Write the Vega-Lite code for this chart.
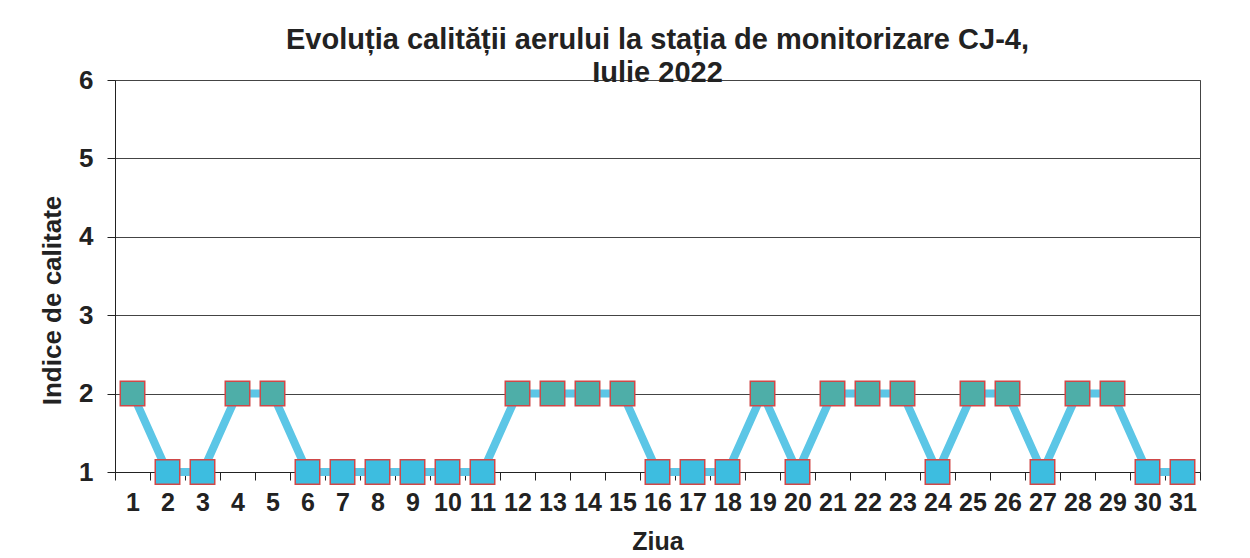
{
  "$schema": "https://vega.github.io/schema/vega-lite/v6.json",
  "autosize": {"type": "none"},
  "padding": {"left": 115, "top": 80, "right": 50, "bottom": 86},
  "width": 1085,
  "height": 392,
  "background": "white",
  "title": {
    "text": ["Evoluția calității aerului la stația de monitorizare CJ-4,", "Iulie 2022"],
    "font": "Liberation Sans",
    "fontSize": 29,
    "fontWeight": "bold",
    "color": "#222",
    "anchor": "middle",
    "lineHeight": 33,
    "offset": -21
  },
  "config": {
    "view": {"stroke": "#444", "strokeWidth": 1},
    "axis": {
      "labelFont": "Liberation Sans",
      "titleFont": "Liberation Sans",
      "labelFontWeight": "bold",
      "titleFontWeight": "bold",
      "labelColor": "#222",
      "titleColor": "#222",
      "domainColor": "#222",
      "tickColor": "#222"
    }
  },
  "data": {
    "values": [
      {"day": 1, "value": 2}, {"day": 2, "value": 1}, {"day": 3, "value": 1},
      {"day": 4, "value": 2}, {"day": 5, "value": 2}, {"day": 6, "value": 1},
      {"day": 7, "value": 1}, {"day": 8, "value": 1}, {"day": 9, "value": 1},
      {"day": 10, "value": 1}, {"day": 11, "value": 1}, {"day": 12, "value": 2},
      {"day": 13, "value": 2}, {"day": 14, "value": 2}, {"day": 15, "value": 2},
      {"day": 16, "value": 1}, {"day": 17, "value": 1}, {"day": 18, "value": 1},
      {"day": 19, "value": 2}, {"day": 20, "value": 1}, {"day": 21, "value": 2},
      {"day": 22, "value": 2}, {"day": 23, "value": 2}, {"day": 24, "value": 1},
      {"day": 25, "value": 2}, {"day": 26, "value": 2}, {"day": 27, "value": 1},
      {"day": 28, "value": 2}, {"day": 29, "value": 2}, {"day": 30, "value": 1},
      {"day": 31, "value": 1}
    ]
  },
  "encoding": {
    "x": {
      "field": "day",
      "type": "ordinal",
      "sort": "ascending",
      "scale": {"paddingInner": 0, "paddingOuter": 0},
      "axis": {
        "title": "Ziua",
        "titleFontSize": 25,
        "titlePadding": 14,
        "labelFontSize": 25,
        "labelAngle": 0,
        "labelPadding": 10,
        "tickBand": "extent",
        "tickSize": 8,
        "grid": false
      }
    },
    "y": {
      "field": "value",
      "type": "quantitative",
      "scale": {"domain": [1, 6], "nice": false, "zero": false},
      "axis": {
        "title": "Indice de calitate",
        "titleFontSize": 26,
        "titlePadding": 13,
        "titleY": 220,
        "labelFontSize": 26,
        "labelPadding": 14,
        "tickSize": 8,
        "values": [1, 2, 3, 4, 5, 6],
        "grid": true,
        "gridColor": "#444",
        "gridOpacity": 1,
        "gridWidth": 1
      }
    }
  },
  "layer": [
    {
      "mark": {"type": "line", "color": "#5cc6e6", "strokeWidth": 8}
    },
    {
      "mark": {"type": "point", "shape": "square", "filled": true, "size": 600, "stroke": "#d04848", "strokeWidth": 1.5, "fillOpacity": 1, "opacity": 1},
      "encoding": {
        "fill": {
          "field": "value",
          "type": "nominal",
          "scale": {"domain": [1, 2], "range": ["#3dbde0", "#4eaea8"]},
          "legend": null
        }
      }
    }
  ]
}
